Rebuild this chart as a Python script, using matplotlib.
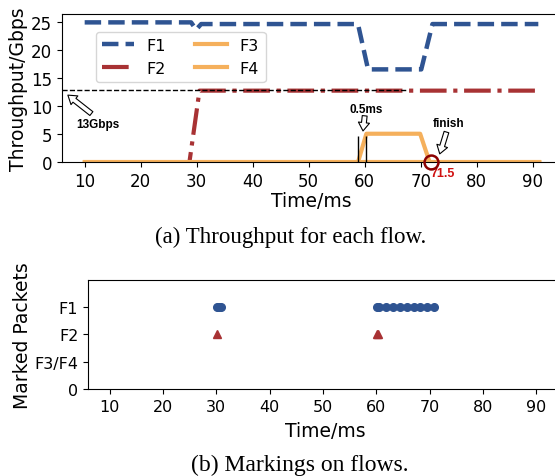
import matplotlib
matplotlib.use("Agg")
import matplotlib.pyplot as plt

# throughput traces (Gbps)
f1_t = [10, 29, 29.9, 30.8, 58.8, 60.6, 70.1, 72.1, 91]
f1_v = [25.0, 25.0, 23.7, 24.7, 24.7, 16.6, 16.6, 24.7, 24.7]
f2_t = [10, 28.7, 30.5, 91]
f2_v = [0, 0, 12.8, 12.8]
f3_t = [10, 91.2]
f3_v = [0, 0]
f4_t = [10, 58.8, 60.3, 69.9, 71.6, 91.2]
f4_v = [0, 0, 5.1, 5.1, 0, 0]

# marked packets (time in ms)
f1_marks = [30.2, 30.5, 30.8, 60.1, 60.5, 61.8, 63.1, 64.4, 65.7, 67.0, 68.3, 69.6, 70.9]
f2_marks = [30.2, 60.1, 60.4]
mark_levels = [0, 1, 2, 3]
mark_labels = ['0', 'F3/F4', 'F2', 'F1']

xticks = [10, 20, 30, 40, 50, 60, 70, 80, 90]
yticks_top = [0, 5, 10, 15, 20, 25]

BLUE = '#2f5492'
RED = '#a83234'
ORANGE = '#f5b05c'
ANNOT_FONT = ['Liberation Sans', 'DejaVu Sans']
CAPTION_FONT = ['Liberation Serif', 'DejaVu Serif']

fig = plt.figure(figsize=(5.55, 4.77), dpi=100)

# ---- (a) throughput ----
ax = fig.add_axes([0.1117, 0.6577, 0.8991, 0.3109])
ax.plot(f1_t, f1_v, color=BLUE, lw=3.2, ls='--', label='F1')
ax.plot(f2_t, f2_v, color=RED, lw=3.0, ls='-.', label='F2')
ax.plot(f3_t, f3_v, color=ORANGE, lw=3.0, label='F3')
ax.plot(f4_t, f4_v, color=ORANGE, lw=3.0, label='F4')
ax.plot([5.95, 67.5], [12.85, 12.85], color='black', lw=1, ls='--')
ax.vlines([58.8, 60.3], 0, 4.7, color='black', lw=1)

ax.set_xlim(5.95, 95.05)
ax.set_ylim(0, 26.5)
ax.set_xticks(xticks)
ax.set_yticks(yticks_top)
ax.tick_params(labelsize=12)
ax.set_xlabel('Time/ms', fontsize=13.5, labelpad=1)
ax.set_ylabel('Throughput/Gbps', fontsize=13.5, labelpad=2)
ax.legend(ncol=2, loc='upper left', bbox_to_anchor=(0.0675, 0.881),
          borderaxespad=0, fontsize=11.5, columnspacing=1.8)

arrow = dict(facecolor='white', edgecolor='black', width=3.5, headwidth=8,
             headlength=6, shrink=0, lw=0.8)
ax.annotate('', xy=(7.0, 12.0), xytext=(11.2, 8.7), arrowprops=arrow)
ax.text(12.4, 6.9, '13Gbps', fontsize=8.5, fontweight='bold', family=ANNOT_FONT,
        ha='center', va='center')
ax.annotate('', xy=(59.7, 5.6), xytext=(60.0, 8.3), arrowprops=arrow)
ax.text(60.2, 9.5, '0.5ms', fontsize=8.5, fontweight='bold', family=ANNOT_FONT,
        ha='center', va='center')
ax.annotate('', xy=(73.4, 1.5), xytext=(74.6, 5.4), arrowprops=arrow)
ax.text(74.9, 7.0, 'finish', fontsize=8.5, fontweight='bold', family=ANNOT_FONT,
        ha='center', va='center')
ax.plot([71.9], [0], marker='o', ms=10, mfc='none', mec='#8b0000', mew=1.8,
        clip_on=False, zorder=5)
ax.text(73.9, -1.9, '71.5', fontsize=9, fontweight='bold', color='#d01010',
        family=ANNOT_FONT, ha='center', va='center', clip_on=False)

fig.text(0.523, 0.503, '(a) Throughput for each flow.', fontsize=16.5,
         family=CAPTION_FONT, ha='center', va='center')

# ---- (b) markings ----
bx = fig.add_axes([0.1586, 0.1824, 0.856, 0.229])
bx.plot(f1_marks, [3] * len(f1_marks), 'o', color=BLUE, ms=5.5, ls='none')
bx.plot(f2_marks, [2] * len(f2_marks), '^', color=RED, ms=5.5, ls='none')
bx.set_xlim(5.95, 95.05)
bx.set_ylim(0, 4)
bx.set_xticks(xticks)
bx.set_yticks(mark_levels)
bx.set_yticklabels(mark_labels)
bx.tick_params(labelsize=11.5)
bx.set_xlabel('Time/ms', fontsize=13.5, labelpad=5)
bx.set_ylabel('Marked Packets', fontsize=13.5, labelpad=2)

fig.text(0.54, 0.025, '(b) Markings on flows.', fontsize=17,
         family=CAPTION_FONT, ha='center', va='center')

fig.savefig('out.png', dpi=100)
